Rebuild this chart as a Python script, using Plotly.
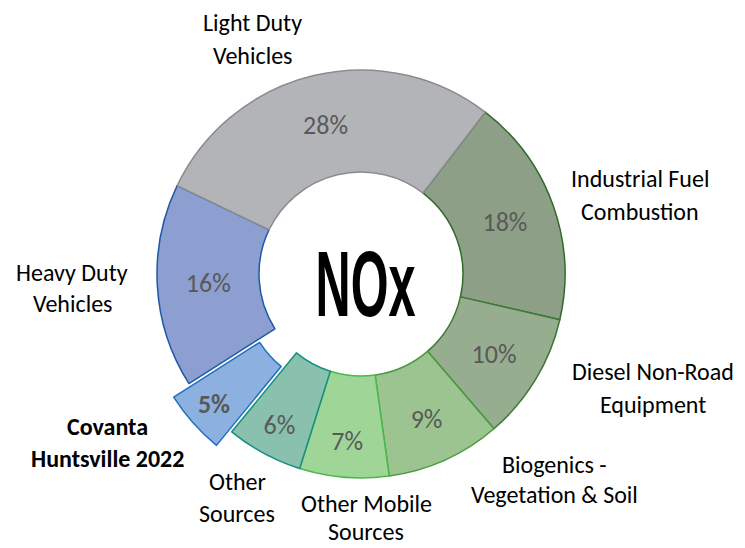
import plotly.graph_objects as go

# ---- data ----
categories = [
    "Industrial Fuel<br>Combustion",
    "Diesel Non-Road<br>Equipment",
    "Biogenics -<br>Vegetation & Soil",
    "Other Mobile<br>Sources",
    "Other<br>Sources",
    "Covanta<br>Huntsville 2022",
    "Heavy Duty<br>Vehicles",
    "Light Duty<br>Vehicles",
]
shares = [18, 10, 9, 7, 6, 5, 16, 28]
center_label = "NOx"

# ---- styles ----
fill_colors = ["#8da087", "#97ad8f", "#9cc490", "#9fd698", "#89c0ae", "#8cb1e0", "#8d9ed0", "#b3b4b8"]
line_colors = ["#2f6b2a", "#3a7a32", "#4a9a40", "#4cb84c", "#149080", "#1f70c0", "#1f5aa6", "#8b8c90"]
pulls = [0, 0, 0, 0, 0, 0.1, 0, 0]
templates = ["%{value}%"] * len(shares)
templates[5] = "<b>%{value}%</b>"

# outside label positions (px) : (x_center, y_line1, y_line2)
label_pos = [
    (640, 178, 211),
    (653, 371, 404),
    (554, 464, 494),
    (366, 503, 531),
    (237, 481, 513),
    (107, 426, 458),
    (72, 272, 303),
    (252, 22, 56),
]
bold_labels = [False, False, False, False, False, True, False, False]

W, H = 745, 548
cx, cy, r = 361, 274, 204
side = 2 * r * (1 + max(pulls))

FONT = "Carlito, Lato, sans-serif"

fig = go.Figure(go.Pie(
    labels=categories,
    values=shares,
    sort=False,
    direction="clockwise",
    rotation=37.5,
    hole=0.5,
    pull=pulls,
    marker=dict(colors=fill_colors, line=dict(color=line_colors, width=1.5)),
    texttemplate=templates,
    textposition="inside",
    insidetextorientation="horizontal",
    insidetextfont=dict(family=FONT, size=26, color="#595959"),
    hoverinfo="label+percent",
    domain=dict(x=[(cx - side / 2) / W, (cx + side / 2) / W],
                y=[1 - (cy + side / 2) / H, 1 - (cy - side / 2) / H]),
))

annotations = []
for lab, (x, y1, y2), b in zip(categories, label_pos, bold_labels):
    for line, y in zip(lab.split("<br>"), (y1, y2)):
        annotations.append(dict(
            text=f"<b>{line}</b>" if b else line,
            x=x / W, y=1 - y / H, xref="paper", yref="paper",
            xanchor="center", yanchor="middle", showarrow=False,
            font=dict(family=FONT, size=24, color="#000000"),
        ))
annotations.append(dict(
    text=center_label, x=365 / W, y=1 - 284 / H, xref="paper", yref="paper",
    xanchor="center", yanchor="middle", showarrow=False,
    font=dict(family="Liberation Sans Narrow, Arial Narrow, sans-serif", size=92, color="#000000", weight="bold"),
))

fig.update_layout(
    width=W, height=H,
    margin=dict(l=0, r=0, t=0, b=0),
    paper_bgcolor="white", plot_bgcolor="white",
    showlegend=False,
    annotations=annotations,
)

post = """
document.body.style.margin = '0';
document.body.style.padding = '0';
var els = document.querySelectorAll('text.annotation-text');
els.forEach(function(t){
  if (t.textContent === 'NOx') {
    t.setAttribute('textLength', '100');
    t.setAttribute('lengthAdjust', 'spacingAndGlyphs');
  }
});
"""

fig.write_html("out.html", post_script=post, config={"displayModeBar": False})
